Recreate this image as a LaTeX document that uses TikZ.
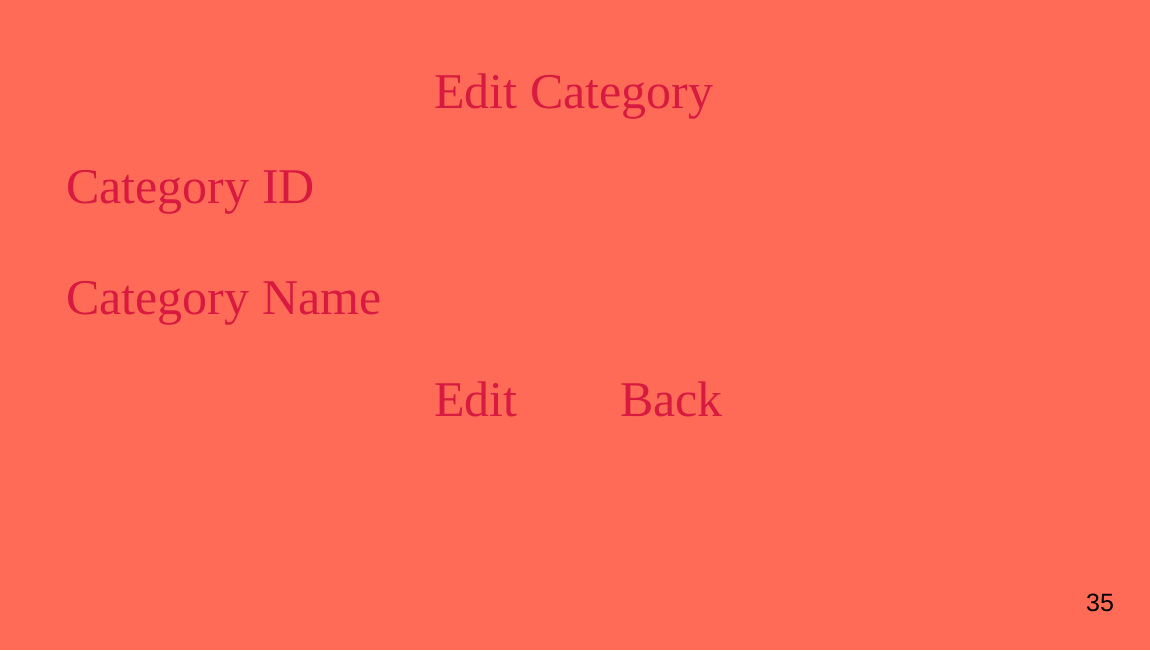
\documentclass[tikz,border=0pt]{standalone}
\usepackage{fontspec}
\setmainfont{Liberation Serif}
\newfontfamily\numfont{Liberation Sans}
\definecolor{bgcoral}{HTML}{FF6B56}
\definecolor{txtcrimson}{HTML}{D81A40}
\tikzset{
  lbl/.style={anchor=base west, inner sep=0pt, text=txtcrimson, font=\fontsize{50}{56}\selectfont},
  pagenum/.style={anchor=base west, inner sep=0pt, text=black, font=\numfont\fontsize{25}{30}\selectfont}
}
\begin{document}
\begin{tikzpicture}[x=1pt,y=1pt]
\fill[bgcoral] (0,0) rectangle (1150,650);
\useasboundingbox (0,0) rectangle (1150,650);
\node[lbl] (title) at (434,541.5) {Edit Category};
\node[lbl] (cid) at (66,446.5) {Category ID};
\node[lbl] (cname) at (66,335.5) {Category Name};
\node[lbl] (edit) at (434,233) {Edit};
\node[lbl] (back) at (620,233) {Back};
\node[pagenum] (num) at (1086,38.5) {35};
\end{tikzpicture}
\end{document}
